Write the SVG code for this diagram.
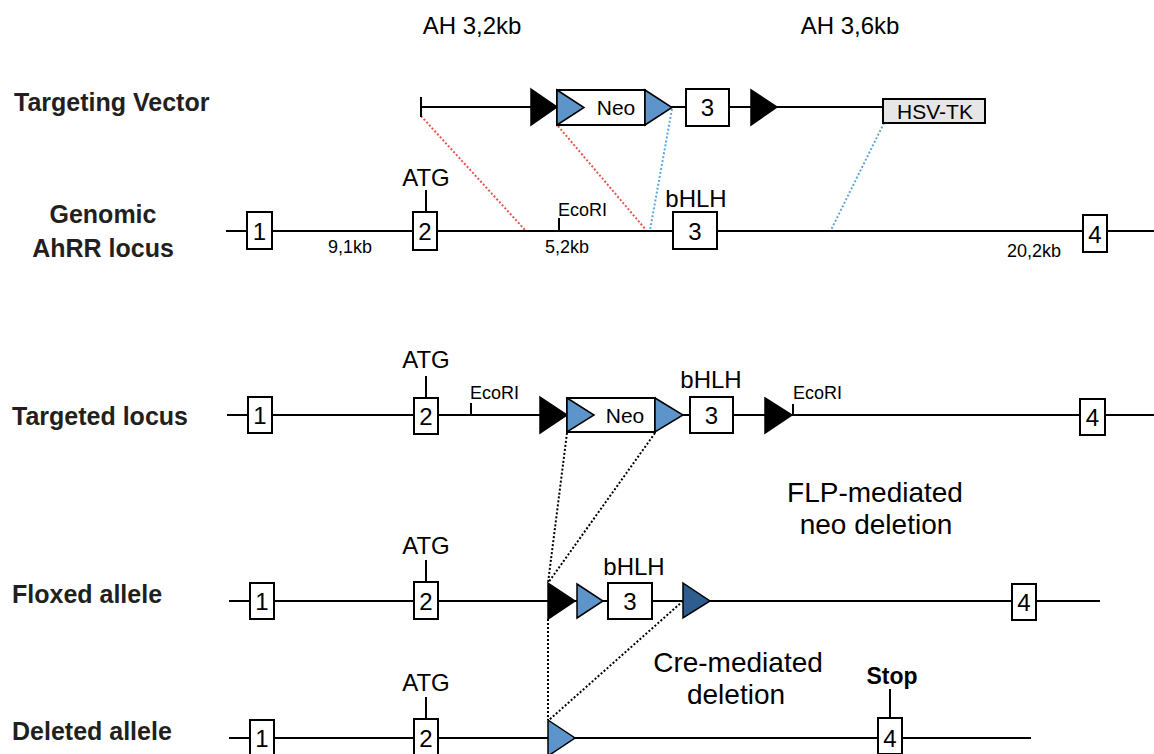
<svg xmlns="http://www.w3.org/2000/svg" width="1154" height="754" viewBox="0 0 1154 754">
  <style>
    .bg { fill: #ffffff; }
    .dna { stroke: #000; stroke-width: 2; fill: none; }
    .exon { fill: #fff; stroke: #000; stroke-width: 2; }
    .tk { fill: #e6e6e6; stroke: #000; stroke-width: 2; }
    .frt { fill: #000; stroke: #000; stroke-width: 1.5; }
    .lox { fill: #5d95cb; stroke: #000; stroke-width: 1.5; }
    .loxd { fill: #2d5e8f; stroke: #000; stroke-width: 1.5; }
    .num { font-family: "Liberation Sans", Arial, sans-serif; font-size: 24px; text-anchor: middle; fill: #000; }
    .lbl { font-family: "Liberation Sans", Arial, sans-serif; font-size: 24px; text-anchor: middle; fill: #000; }
    .big { font-family: "Liberation Sans", Arial, sans-serif; font-size: 28px; text-anchor: middle; fill: #000; }
    .sm { font-family: "Liberation Sans", Arial, sans-serif; font-size: 18px; fill: #000; }
    .row { font-family: "Liberation Sans", Arial, sans-serif; font-size: 25px; font-weight: bold; fill: #231f20; }
    .red { stroke: #e0574f; stroke-width: 2; stroke-dasharray: 2 2; fill: none; }
    .blue { stroke: #5ea6e0; stroke-width: 2; stroke-dasharray: 2 2; fill: none; }
    .blk { stroke: #000; stroke-width: 2; stroke-dasharray: 2 2; fill: none; }
  </style>
  <rect class="bg" x="0" y="0" width="1154" height="754"/>

  <!-- homology arm sizes -->
  <g id="arm-labels">
    <text class="lbl" x="472" y="34">AH 3,2kb</text>
    <text class="lbl" x="850" y="34">AH 3,6kb</text>
  </g>

  <!-- row titles -->
  <g id="row-titles">
    <text class="row" x="14" y="111">Targeting Vector</text>
    <text class="row" x="103" y="223" text-anchor="middle">Genomic</text>
    <text class="row" x="103" y="257" text-anchor="middle">AhRR locus</text>
    <text class="row" x="12" y="425">Targeted locus</text>
    <text class="row" x="12" y="603">Floxed allele</text>
    <text class="row" x="12" y="740">Deleted allele</text>
  </g>

  <!-- homology and recombination connectors -->
  <g id="connectors">
    <line class="red" x1="421" y1="116" x2="525" y2="230"/>
    <line class="red" x1="558" y1="126" x2="646" y2="230"/>
    <line class="blue" x1="672" y1="109" x2="650" y2="230"/>
    <line class="blue" x1="884" y1="123" x2="831" y2="230"/>
    <line class="blk" x1="567" y1="433" x2="548" y2="583"/>
    <line class="blk" x1="655" y1="433" x2="548" y2="583"/>
    <line class="blk" x1="548" y1="619" x2="548" y2="720"/>
    <line class="blk" x1="683" y1="601" x2="549" y2="720"/>
  </g>

  <!-- Targeting vector -->
  <g id="targeting-vector">
    <line class="dna" x1="421" y1="107" x2="532" y2="107"/>
    <line class="dna" x1="421" y1="97" x2="421" y2="117"/>
    <line class="dna" x1="670" y1="107" x2="686" y2="107"/>
    <line class="dna" x1="729" y1="107" x2="751" y2="107"/>
    <line class="dna" x1="777" y1="107" x2="883" y2="107"/>
    <g id="tv-frt1"><polygon class="frt" points="531,89 557,107 531,125"/></g>
    <g id="tv-neo">
      <rect class="exon" x="557" y="90" width="88" height="35"/>
      <polygon class="lox" points="557,90 584,107.5 557,125"/>
      <text class="num" x="616" y="115" style="font-size:21px">Neo</text>
    </g>
    <g id="tv-lox2"><polygon class="lox" points="645,90 672,107.5 645,125"/></g>
    <g id="tv-exon3">
      <rect class="exon" x="686" y="89" width="43" height="37"/>
      <text class="num" x="707.5" y="116">3</text>
    </g>
    <g id="tv-frt2"><polygon class="frt" points="751,90 777,107 751,125"/></g>
    <g id="tv-hsvtk">
      <rect class="tk" x="883" y="99" width="102" height="24"/>
      <text class="num" x="935" y="119" style="font-size:21px">HSV-TK</text>
    </g>
  </g>

  <!-- Genomic AhRR locus -->
  <g id="genomic-locus">
    <line class="dna" x1="226" y1="231" x2="1154" y2="231"/>
    <g id="g-exon1">
      <rect class="exon" x="247" y="212" width="25" height="37"/>
      <text class="num" x="259.5" y="240">1</text>
    </g>
    <g id="g-exon2">
      <line class="dna" x1="426" y1="190" x2="426" y2="212"/>
      <text class="lbl" x="426" y="186">ATG</text>
      <rect class="exon" x="413" y="212" width="24" height="38"/>
      <text class="num" x="425" y="240">2</text>
    </g>
    <g id="g-ecori">
      <line class="dna" x1="559" y1="218" x2="559" y2="231"/>
      <text class="sm" x="558" y="216">EcoRI</text>
    </g>
    <g id="g-exon3">
      <text class="lbl" x="696" y="207">bHLH</text>
      <rect class="exon" x="673" y="212" width="44" height="37"/>
      <text class="num" x="695" y="240">3</text>
    </g>
    <g id="g-exon4">
      <rect class="exon" x="1083" y="215" width="24" height="37"/>
      <text class="num" x="1095" y="243">4</text>
    </g>
    <text class="sm" x="350" y="253" text-anchor="middle">9,1kb</text>
    <text class="sm" x="567" y="253" text-anchor="middle">5,2kb</text>
    <text class="sm" x="1034" y="257" text-anchor="middle">20,2kb</text>
  </g>

  <!-- Targeted locus -->
  <g id="targeted-locus">
    <line class="dna" x1="227" y1="415" x2="1154" y2="415"/>
    <g id="t-exon1">
      <rect class="exon" x="248" y="397" width="24" height="36"/>
      <text class="num" x="260" y="424">1</text>
    </g>
    <g id="t-exon2">
      <line class="dna" x1="426" y1="376" x2="426" y2="398"/>
      <text class="lbl" x="426" y="368">ATG</text>
      <rect class="exon" x="414" y="398" width="24" height="36"/>
      <text class="num" x="426" y="425">2</text>
    </g>
    <g id="t-ecori1">
      <line class="dna" x1="471" y1="403" x2="471" y2="415"/>
      <text class="sm" x="470" y="399">EcoRI</text>
    </g>
    <g id="t-frt1"><polygon class="frt" points="540,397 567,415 540,433"/></g>
    <g id="t-neo">
      <rect class="exon" x="567" y="398" width="88" height="34"/>
      <polygon class="lox" points="567,398 594,415 567,432"/>
      <text class="num" x="625" y="423" style="font-size:21px">Neo</text>
    </g>
    <g id="t-lox2"><polygon class="lox" points="655,398 683,415 655,432"/></g>
    <g id="t-exon3">
      <text class="lbl" x="711" y="388">bHLH</text>
      <rect class="exon" x="690" y="397" width="43" height="36"/>
      <text class="num" x="711.5" y="424">3</text>
    </g>
    <g id="t-frt2"><polygon class="frt" points="765,398 792,415 765,433"/></g>
    <g id="t-ecori2">
      <line class="dna" x1="793" y1="404" x2="793" y2="415"/>
      <text class="sm" x="793" y="399">EcoRI</text>
    </g>
    <g id="t-exon4">
      <rect class="exon" x="1080" y="399" width="25" height="36"/>
      <text class="num" x="1092.5" y="426">4</text>
    </g>
  </g>

  <text class="big" x="875" y="502">FLP-mediated</text>
  <text class="big" x="876" y="534">neo deletion</text>

  <!-- Floxed allele -->
  <g id="floxed-allele">
    <line class="dna" x1="229" y1="601" x2="1100" y2="601"/>
    <g id="f-exon1">
      <rect class="exon" x="250" y="583" width="24" height="36"/>
      <text class="num" x="262" y="610">1</text>
    </g>
    <g id="f-exon2">
      <line class="dna" x1="426" y1="560" x2="426" y2="582"/>
      <text class="lbl" x="426" y="554">ATG</text>
      <rect class="exon" x="414" y="582" width="24" height="37"/>
      <text class="num" x="426" y="610">2</text>
    </g>
    <g id="f-frt"><polygon class="frt" points="548,583 575,601 548,619"/></g>
    <g id="f-lox1"><polygon class="lox" points="577,584 603,601 577,618"/></g>
    <g id="f-exon3">
      <text class="lbl" x="634" y="575">bHLH</text>
      <rect class="exon" x="608" y="583" width="44" height="36"/>
      <text class="num" x="630" y="610">3</text>
    </g>
    <g id="f-lox2"><polygon class="loxd" points="683,583 710,601 683,618"/></g>
    <g id="f-exon4">
      <rect class="exon" x="1012" y="584" width="24" height="36"/>
      <text class="num" x="1024" y="611">4</text>
    </g>
  </g>

  <text class="big" x="738" y="672">Cre-mediated</text>
  <text class="big" x="736" y="704">deletion</text>

  <!-- Deleted allele -->
  <g id="deleted-allele">
    <line class="dna" x1="229" y1="738" x2="1031" y2="738"/>
    <g id="d-exon1">
      <rect class="exon" x="250" y="720" width="24" height="35"/>
      <text class="num" x="262" y="747">1</text>
    </g>
    <g id="d-exon2">
      <line class="dna" x1="426" y1="697" x2="426" y2="719"/>
      <text class="lbl" x="426" y="691">ATG</text>
      <rect class="exon" x="414" y="719" width="24" height="36"/>
      <text class="num" x="426" y="747">2</text>
    </g>
    <g id="d-lox"><polygon class="lox" points="548,720 575,738 548,756"/></g>
    <g id="d-exon4">
      <line class="dna" x1="890" y1="689" x2="890" y2="718"/>
      <text class="lbl" x="892" y="684" style="font-size:23px;font-weight:bold">Stop</text>
      <rect class="exon" x="878" y="718" width="24" height="36"/>
      <text class="num" x="890" y="747">4</text>
    </g>
  </g>
</svg>
